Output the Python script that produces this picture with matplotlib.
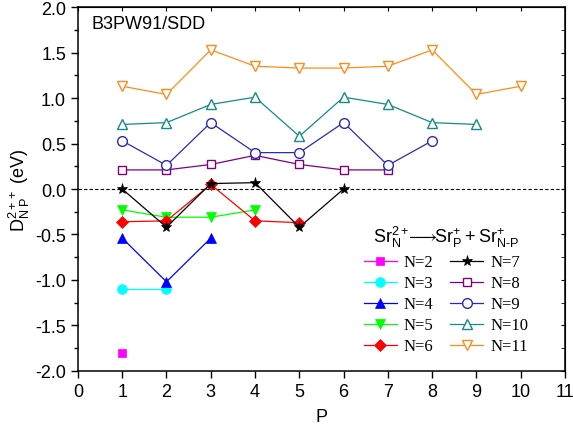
import matplotlib
matplotlib.use("Agg")
import matplotlib.pyplot as plt
from matplotlib.ticker import MultipleLocator

plt.rcParams['font.family'] = ['Liberation Sans', 'DejaVu Sans']
plt.rcParams['mathtext.fontset'] = 'custom'
plt.rcParams['mathtext.rm'] = 'Liberation Sans'
plt.rcParams['mathtext.it'] = 'Liberation Sans:italic'

# Data: D(N,P) values for each cluster size N, P = 1..N-1
labels = ["N=2", "N=3", "N=4", "N=5", "N=6", "N=7", "N=8", "N=9", "N=10", "N=11"]
d_n2 = [-1.80]
d_n3 = [-1.10, -1.10]
d_n4 = [-0.54, -1.02, -0.54]
d_n5 = [-0.23, -0.31, -0.31, -0.23]
d_n6 = [-0.36, -0.35, 0.05, -0.35, -0.37]
d_n7 = [0.00, -0.42, 0.06, 0.07, -0.42, 0.00]
d_n8 = [0.21, 0.21, 0.27, 0.37, 0.27, 0.21, 0.21]
d_n9 = [0.53, 0.26, 0.73, 0.40, 0.40, 0.73, 0.26, 0.53]
d_n10 = [0.71, 0.73, 0.93, 1.01, 0.58, 1.01, 0.93, 0.73, 0.71]
d_n11 = [1.13, 1.04, 1.53, 1.35, 1.33, 1.33, 1.35, 1.53, 1.04, 1.13]
series = [d_n2, d_n3, d_n4, d_n5, d_n6, d_n7, d_n8, d_n9, d_n10, d_n11]

colors = ['#FF00FF', '#00FFFF', '#0000FF', '#00FF00', '#FF0000',
          '#000000', '#800080', '#2B2BB5', '#168A8A', '#FF8C1A']
markers = ['s', 'o', '^', 'v', 'D', '*', 's', 'o', '^', 'v']
filled = [True, True, True, True, True, True, False, False, False, False]
msizes = [6, 7, 7, 7, 6, 8, 6, 7, 7, 7]

fig = plt.figure(figsize=(5.73, 4.27), dpi=100)
ax = fig.add_axes([0.136, 0.129, 0.850, 0.852])

ax.axhline(0, color='black', lw=0.8, ls=(0, (3, 2)), zorder=1)

handles = []
for vals, lab, c, m, f, ms in zip(series, labels, colors, markers, filled, msizes):
    P = list(range(1, len(vals) + 1))
    h, = ax.plot(P, vals, color=c, lw=0.9, marker=m, ms=ms,
                 mfc=c if f else 'white', mec=c, mew=1.0 if not f else 0.5,
                 label=lab, zorder=3)
    handles.append(h)

ax.set_xlim(0, 11)
ax.set_ylim(-2.0, 2.0)
ax.xaxis.set_major_locator(MultipleLocator(1))
ax.yaxis.set_major_locator(MultipleLocator(0.5))
ax.yaxis.set_minor_locator(MultipleLocator(0.25))
ax.yaxis.set_major_formatter(matplotlib.ticker.FormatStrFormatter('%.1f'))
ax.tick_params(axis='both', which='major', direction='out', length=5, width=1,
               labelsize=13, top=False, right=False)
ax.tick_params(axis='y', which='minor', direction='out', length=3, width=1)
for s in ax.spines.values():
    s.set_linewidth(1.1)

# inward ticks on top and right
axr = ax.secondary_yaxis('right')
axr.yaxis.set_major_locator(MultipleLocator(0.5))
axr.yaxis.set_minor_locator(MultipleLocator(0.25))
axr.tick_params(which='both', direction='in', length=3, labelright=False)
axt = ax.secondary_xaxis('top')
axt.xaxis.set_major_locator(MultipleLocator(1))
axt.tick_params(direction='in', length=3, labeltop=False)

ax.set_xlabel('P', fontsize=13, labelpad=6)
ax.set_ylabel(r'$\mathrm{D}^{2++}_{\mathrm{N\ P}}$ (eV)', fontsize=13, labelpad=2)

ax.text(0.3, 1.82, 'B3PW91/SDD', fontsize=13, ha='left', va='center')

leg = ax.legend(handles, labels,
                ncol=2, loc='lower right', bbox_to_anchor=(0.955, 0.004),
                frameon=False, prop={'family': 'Liberation Serif', 'size': 12},
                handlelength=2.0, handletextpad=0.4, columnspacing=1.0,
                labelspacing=0.3,
                title=r'$\mathrm{Sr}_{\mathrm{N}}^{2+}\!\!\longrightarrow\!\!\mathrm{Sr}_{\mathrm{P}}^{+}+\mathrm{Sr}_{\mathrm{N\text{-}P}}^{+}$',
                title_fontproperties={'family': 'Liberation Serif', 'size': 13})
leg._legend_box.align = 'center'

fig.savefig('out.png', dpi=100)
